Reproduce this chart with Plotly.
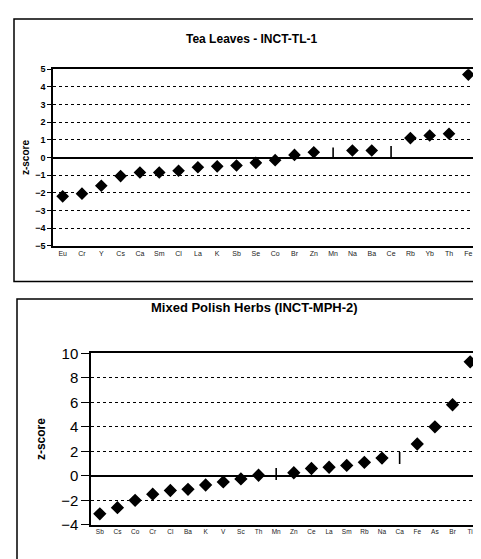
import plotly.graph_objects as go

# ---- data: Tea Leaves INCT-TL-1 ----
tea_elements = ["Eu", "Cr", "Y", "Cs", "Ca", "Sm", "Cl", "La", "K", "Sb", "Se",
                "Co", "Br", "Zn", "Mn", "Na", "Ba", "Ce", "Rb", "Yb", "Th", "Fe"]
tea_z = [-2.2, -2.05, -1.6, -1.05, -0.85, -0.85, -0.75, -0.55, -0.5, -0.45, -0.3,
         -0.15, 0.15, 0.3, 0.25, 0.4, 0.4, 0.33, 1.1, 1.25, 1.35, 4.7]
tea_symbol = ["diamond"] * 22
tea_symbol[14] = "line-ns"   # Mn
tea_symbol[17] = "line-ns"   # Ce

# ---- data: Mixed Polish Herbs INCT-MPH-2 ----
mph_elements = ["Sb", "Cs", "Co", "Cr", "Cl", "Ba", "K", "V", "Sc", "Th", "Mn",
                "Zn", "Ce", "La", "Sm", "Rb", "Na", "Ca", "Fe", "As", "Br", "Ti"]
mph_z = [-3.1, -2.6, -2.0, -1.5, -1.2, -1.1, -0.75, -0.5, -0.25, 0.05, 0.15,
         0.25, 0.6, 0.7, 0.85, 1.1, 1.45, 1.45, 2.6, 4.0, 5.8, 9.3]
mph_symbol = ["diamond"] * 22
mph_symbol[10] = "line-ns"   # Mn
mph_symbol[17] = "line-ns"   # Ca

OFF = 8  # page body margin
W, H = 481 - OFF, 559 - OFF
FONT = "Liberation Sans, Arial, sans-serif"

def px_x(v):
    return (v - OFF) / W

def px_y(v):
    return 1 - (v - OFF) / H

fig = go.Figure()

fig.add_trace(go.Scatter(
    x=tea_elements, y=tea_z, mode="markers", xaxis="x", yaxis="y",
    marker=dict(symbol=tea_symbol, size=8, color="black",
                line=dict(color="black", width=1.6)),
    showlegend=False))

fig.add_trace(go.Scatter(
    x=mph_elements, y=mph_z, mode="markers", xaxis="x2", yaxis="y2",
    marker=dict(symbol=mph_symbol, size=8.5, color="black",
                line=dict(color="black", width=1.6)),
    showlegend=False))

common_x = dict(type="category", showgrid=False, zeroline=False,
                showline=True, linecolor="black", linewidth=1.5, mirror=True,
                ticks="", range=[-0.5, 21.5], tickangle=0)
common_y = dict(showgrid=True, gridcolor="black", griddash="dot", gridwidth=1,
                zeroline=True, zerolinecolor="black",
                showline=True, linecolor="black", linewidth=1.5, mirror=True,
                ticks="outside", tickcolor="black")

fig.update_layout(
    width=W, height=H,
    margin=dict(l=0, r=0, t=0, b=0),
    paper_bgcolor="white", plot_bgcolor="white",
    font=dict(family=FONT, color="black"),
    xaxis=dict(**common_x, domain=[px_x(53), min(1, px_x(478))], anchor="y",
               tickfont=dict(size=7, family=FONT, color="#222")),
    yaxis=dict(**common_y, domain=[px_y(244), px_y(62)], anchor="x",
               range=[-5, 5], dtick=1, ticklen=4, zerolinewidth=2,
               tickfont=dict(size=9, family=FONT, weight="bold"),
               title=dict(text="z-score", standoff=4,
                          font=dict(size=10, family=FONT, weight="bold"))),
    xaxis2=dict(**common_x, domain=[px_x(91), min(1, px_x(479))], anchor="y2",
                tickfont=dict(size=6.5, family=FONT, color="#222")),
    yaxis2=dict(**common_y, domain=[px_y(532), px_y(355)], anchor="x2",
                range=[-4, 10], dtick=2, ticklen=8, zerolinewidth=1.5,
                tickfont=dict(size=15, family=FONT),
                title=dict(text="z-score", standoff=13,
                           font=dict(size=12, family=FONT, weight="bold"))),
    shapes=[
        dict(type="rect", xref="paper", yref="paper",
             x0=px_x(14), x1=px_x(495), y0=px_y(281), y1=px_y(10),
             line=dict(color="black", width=1.5)),
        dict(type="rect", xref="paper", yref="paper",
             x0=px_x(17), x1=px_x(495), y0=px_y(580), y1=px_y(299),
             line=dict(color="black", width=1.5)),
    ],
    annotations=[
        dict(text="Tea Leaves - INCT-TL-1", xref="paper", yref="paper",
             x=px_x(251), y=px_y(31), showarrow=False, xanchor="center",
             yanchor="middle",
             font=dict(size=12, family=FONT, weight="bold")),
        dict(text="Mixed Polish Herbs (INCT-MPH-2)", xref="paper", yref="paper",
             x=px_x(254), y=px_y(308), showarrow=False, xanchor="center",
             yanchor="middle",
             font=dict(size=13, family=FONT, weight="bold")),
    ],
)

fig.write_html("out.html")
